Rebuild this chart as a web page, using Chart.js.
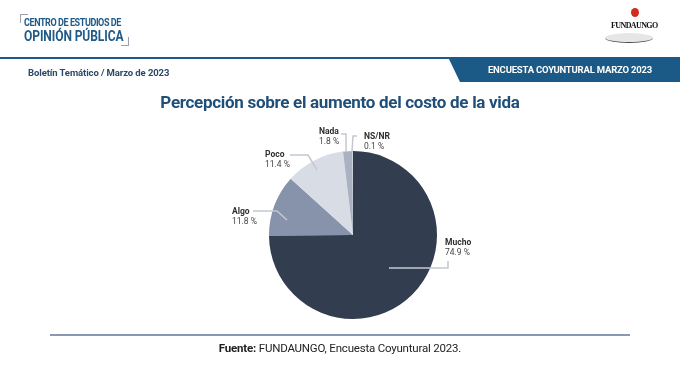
<!DOCTYPE html>
<html>
<head>
<meta charset="utf-8">
<script src="https://cdn.jsdelivr.net/npm/chart.js@4"></script>
<style>
  body { margin: 0; width: 680px; height: 382px; background: #fff; font-family: Roboto, sans-serif; overflow: hidden; }
  #wrap { position: relative; width: 680px; height: 382px; }
  #myChart { position: absolute; left: 0; top: 0; }
  .abs { position: absolute; white-space: nowrap; }
  .narrow { transform: scaleX(0.86); transform-origin: left center; }
</style>
</head>
<body>
<div id="wrap">
  <canvas id="myChart" width="680" height="382"></canvas>
  <!-- cabecera -->
  <div class="abs" style="left:20px;top:14px;width:7px;height:8px;border-left:1px solid #9aa3ad;border-top:1px solid #9aa3ad;"></div>
  <div class="abs" style="left:121px;top:37px;width:7px;height:8px;border-right:1px solid #9aa3ad;border-bottom:1px solid #9aa3ad;"></div>
  <div class="abs narrow" style="left:24px;top:16px;font-size:10.5px;font-weight:700;color:#1f5a88;letter-spacing:-0.5px;">CENTRO DE ESTUDIOS DE</div>
  <div class="abs narrow" style="left:24px;top:28px;font-size:14px;font-weight:700;color:#1f5a88;letter-spacing:-0.1px;">OPINIÓN PÚBLICA</div>
  <!-- logo -->
  <div class="abs" style="left:631px;top:8px;width:8px;height:9px;border-radius:50%;background:#d42a1e;"></div>
  <div class="abs" style="left:605px;top:33px;width:48px;height:9px;border-radius:50%;background:#e6e6e6;border-bottom:1px solid #444;"></div>
  <div class="abs" style="left:611px;top:21px;font-family:'Liberation Serif',serif;font-size:8px;font-weight:700;color:#111;letter-spacing:-0.6px;">FUNDAUNGO</div>
  <!-- barra -->
  <div class="abs" style="left:0;top:57px;width:680px;height:2px;background:#1d5a85;"></div>
  <div class="abs" style="left:448px;top:57px;width:232px;height:25px;background:#1b5a86;clip-path:polygon(0 0,100% 0,100% 100%,12px 100%);"></div>
  <div class="abs" style="left:460px;top:64px;width:220px;text-align:center;font-size:9.5px;font-weight:700;color:#fff;letter-spacing:-0.2px;">ENCUESTA COYUNTURAL MARZO 2023</div>
  <div class="abs" style="left:28px;top:67px;font-size:9.5px;font-weight:700;color:#2b4868;letter-spacing:-0.1px;">Boletín Temático / Marzo de 2023</div>
  <div class="abs" style="left:0;top:92px;width:680px;text-align:center;font-size:17px;font-weight:700;color:#1f4e79;letter-spacing:-0.3px;">Percepción sobre el aumento del costo de la vida</div>
  <!-- pie -->
  <div class="abs" style="left:50px;top:334px;width:580px;height:1.5px;background:#8a97b0;"></div>
  <div class="abs" style="left:0;top:341px;width:680px;text-align:center;font-size:11.5px;color:#222;letter-spacing:-0.2px;"><b>Fuente:</b> FUNDAUNGO, Encuesta Coyuntural 2023.</div>
</div>
<script>
const categories = ['Mucho', 'Algo', 'Poco', 'Nada', 'NS/NR'];
const values = [74.9, 11.8, 11.4, 1.8, 0.1];
const valueLabels = ['74.9 %', '11.8 %', '11.4 %', '1.8 %', '0.1 %'];

const sliceColors = ['#333d50', '#8793ab', '#d7dce5', '#aab2c2', '#c8ced8'];

// posiciones de etiquetas y líneas guía, relativas al centro del pastel
const labelLayout = [
    { tx: 92, ty: 8, line: [[36, 33], [95, 33], [95, 26]] },
    { tx: -121, ty: -23, line: [[-100, -24], [-76, -24], [-66, -15]] },
    { tx: -88, ty: -80, line: [[-63, -80], [-45, -80], [-36, -65]] },
    { tx: -34, ty: -103, line: [[-12, -101], [-7, -101], [-7, -83]] },
    { tx: 11, ty: -98, line: [[4, -99], [0, -99], [-1, -83]] }
];

const leaderLabels = {
    id: 'leaderLabels',
    afterDatasetsDraw(chart) {
        const c = chart.ctx;
        const meta = chart.getDatasetMeta(0);
        const cx = meta.data[0].x, cy = meta.data[0].y;
        c.save();
        c.strokeStyle = '#c3c8d1';
        c.lineWidth = 1.5;
        labelLayout.forEach((l, i) => {
            c.beginPath();
            l.line.forEach((p, j) => {
                if (j === 0) c.moveTo(cx + p[0], cy + p[1]);
                else c.lineTo(cx + p[0], cy + p[1]);
            });
            c.stroke();
            c.fillStyle = '#2e2e2e';
            c.textBaseline = 'middle';
            c.textAlign = 'left';
            c.font = 'bold 8.5px Roboto';
            c.fillText(categories[i], cx + l.tx, cy + l.ty);
            c.font = '8.5px Roboto';
            c.fillStyle = '#444';
            c.fillText(valueLabels[i], cx + l.tx, cy + l.ty + 9.5);
        });
        c.restore();
    }
};

const data = {
    labels: categories,
    datasets: [{
        data: values,
        backgroundColor: sliceColors,
        borderWidth: 0
    }]
};

const config = {
    type: 'pie',
    data: data,
    options: {
        responsive: false,
        animation: false,
        layout: {
            padding: { left: 269, right: 243, top: 151, bottom: 63 }
        },
        plugins: {
            legend: { display: false },
            tooltip: { enabled: false }
        }
    },
    plugins: [leaderLabels]
};

const ctx = document.getElementById('myChart');
chart = new Chart(ctx, config);
</script>
</body>
</html>
